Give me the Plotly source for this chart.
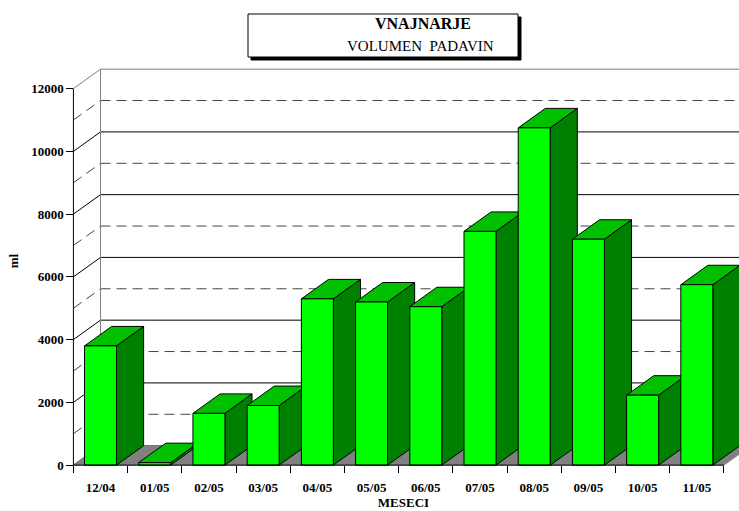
import plotly.graph_objects as go

# ---------------- data ----------------
months = ["12/04", "01/05", "02/05", "03/05", "04/05", "05/05",
          "06/05", "07/05", "08/05", "09/05", "10/05", "11/05"]
rainfall = [3800, 80, 1650, 1900, 5300, 5200, 5050, 7450, 10750, 7200, 2230, 5750]
y_tick_values = [0, 2000, 4000, 6000, 8000, 10000, 12000]
y_tick_labels = ["0", "2000", "4000", "6000", "8000", "10000", "12000"]
grid_step = 1000
y_max = 12000

# ---------------- layout / style constants ----------------
W, H = 739, 511
ML, MR, MT, MB = 68, 0, 55, 44
PX_PER_CAT = 54.21
PX_PER_UNIT = 31.375 / 1000.0
x0 = -0.6
x1 = x0 + (W - ML - MR) / PX_PER_CAT
y0 = -60
y1 = y0 + (H - MT - MB) / PX_PER_UNIT
DX = 0.5      # depth offset (category units)
DY = 620      # depth offset (value units)
HW = 0.295    # half bar width

FRONT = "#00FF00"
TOP = "#00C000"
SIDE = "#008000"
FLOOR = "#808080"
EDGE = "#808080"
FONT = "Liberation Serif, Times New Roman, serif"

n = len(months)
left, right = -0.5, n - 0.5
far = right + DX + 1.0

fig = go.Figure()


def line_trace(xs, ys, color, width=1, dash="solid"):
    fig.add_trace(go.Scatter(x=xs, y=ys, mode="lines",
                             line=dict(color=color, width=width, dash=dash),
                             hoverinfo="skip", showlegend=False))


def poly(xs, ys, fill):
    fig.add_trace(go.Scatter(x=xs, y=ys, mode="lines", fill="toself",
                             fillcolor=fill, line=dict(color="black", width=1),
                             hoverinfo="skip", showlegend=False))


levels = list(range(0, y_max, grid_step))
# back wall grid lines
bx, by, dx_, dy_ = [], [], [], []
for v in levels:
    if (v // grid_step) % 2 == 0:
        bx += [left + DX, far, None]; by += [v + DY, v + DY, None]
    else:
        dx_ += [left + DX, far, None]; dy_ += [v + DY, v + DY, None]
line_trace(bx, by, "black")
line_trace(dx_, dy_, "#444444", dash="10px,6px")

# side wall diagonals
sx, sy, sdx, sdy = [], [], [], []
for v in levels:
    if (v // grid_step) % 2 == 0:
        sx += [left, left + DX, None]; sy += [v, v + DY, None]
    else:
        sdx += [left, left + DX, None]; sdy += [v, v + DY, None]
line_trace(sx, sy, "black")
line_trace(sdx, sdy, "#444444", dash="10px,6px")

# wall outer edges (gray)
line_trace([left, left + DX, far], [y_max, y_max + DY, y_max + DY], EDGE)
line_trace([left + DX, left + DX], [DY, y_max + DY], EDGE)

# floor
fig.add_trace(go.Scatter(x=[left, right, right + DX, left + DX, left],
                         y=[0, 0, DY, DY, 0], mode="lines", fill="toself",
                         fillcolor=FLOOR, line=dict(color=FLOOR, width=1),
                         hoverinfo="skip", showlegend=False))

# bars (left to right so later fronts overlap earlier sides)
for i, v in enumerate(rainfall):
    xl, xr = i - HW, i + HW
    poly([xr, xr + DX, xr + DX, xr, xr], [0, DY, v + DY, v, 0], SIDE)
    poly([xl, xr, xr + DX, xl + DX, xl], [v, v, v + DY, v + DY, v], TOP)
    poly([xl, xr, xr, xl, xl], [0, 0, v, v, 0], FRONT)

# front axis lines
line_trace([left, left, right], [y_max, 0, 0], "black")


# title box (pixel geometry -> paper coords)
def px_x(p):
    return (p - ML) / (W - ML - MR)


def px_y(p):
    return (H - MB - p) / (H - MT - MB)


bx0, bx1, by0, by1 = 248, 518, 14, 57
fig.add_shape(type="rect", xref="paper", yref="paper",
              x0=px_x(bx0 + 3), x1=px_x(bx1 + 3), y0=px_y(by1 + 3), y1=px_y(by0 + 3),
              fillcolor="black", line=dict(color="black", width=1), layer="above")
fig.add_shape(type="rect", xref="paper", yref="paper",
              x0=px_x(bx0), x1=px_x(bx1), y0=px_y(by1), y1=px_y(by0),
              fillcolor="white", line=dict(color="black", width=1), layer="above")

fig.add_annotation(text="<b>VNAJNARJE</b>", xref="paper", yref="paper",
                   x=px_x(423), y=px_y(24), showarrow=False,
                   xanchor="center", yanchor="middle",
                   font=dict(family=FONT, size=16, color="black"))
fig.add_annotation(text="VOLUMEN\u00a0 PADAVIN", xref="paper", yref="paper",
                   x=px_x(420), y=px_y(46), showarrow=False,
                   xanchor="center", yanchor="middle",
                   font=dict(family=FONT, size=15, color="black"))

fig.update_layout(
    width=W, height=H,
    margin=dict(l=ML, r=MR, t=MT, b=MB, pad=0, autoexpand=False),
    paper_bgcolor="white", plot_bgcolor="white",
    showlegend=False,
    font=dict(family=FONT, color="black"),
    xaxis=dict(range=[x0, x1], anchor="free", position=(0 - y0) / (y1 - y0),
               automargin=False,
               tickvals=list(range(n)), ticktext=months,
               ticks="outside", ticklen=10, tickcolor="rgba(0,0,0,0)",
               minor=dict(tick0=-0.5, dtick=1, ticks="outside", ticklen=7,
                          tickcolor="black", tickwidth=1),
               tickfont=dict(family=FONT, size=13, color="black", weight="bold"),
               showgrid=False, zeroline=False, showline=False,
               title=dict(text="<b>MESECI</b>", standoff=3,
                          font=dict(family=FONT, size=13, color="black"))),
    yaxis=dict(range=[y0, y1], anchor="free", position=(left - x0) / (x1 - x0),
               automargin=False,
               tickvals=y_tick_values, ticktext=y_tick_labels,
               ticks="outside", ticklen=7, tickcolor="black", tickwidth=1,
               tickfont=dict(family=FONT, size=13, color="black", weight="bold"),
               showgrid=False, zeroline=False, showline=False,
               title=dict(text="<b>ml</b>", standoff=8,
                          font=dict(family=FONT, size=13, color="black"))),
)

fig.write_html(
    "out.html",
    config={"displayModeBar": False},
    post_script="document.body.style.margin='0';document.body.style.overflow='hidden';",
)
